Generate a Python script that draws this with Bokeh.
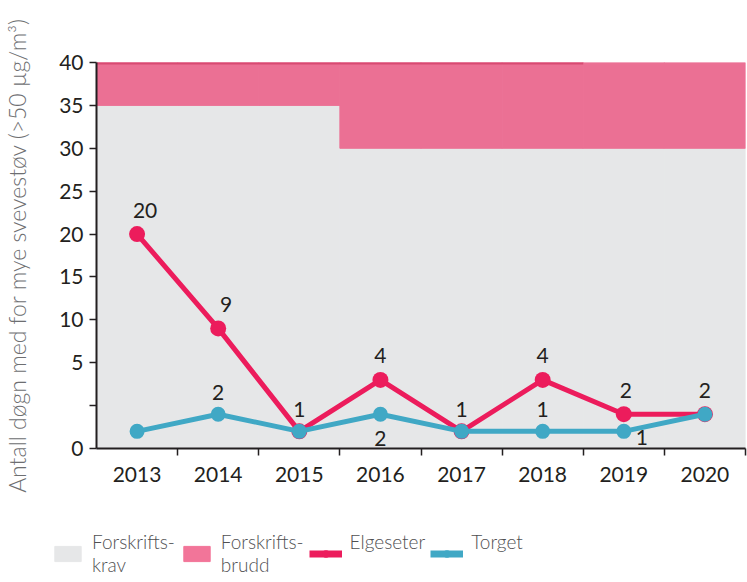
from bokeh.plotting import figure
from bokeh.layouts import column
from bokeh.models import (ColumnDataSource, FixedTicker, Legend, LegendItem, Range1d,
                          CustomJSTransform, CustomJSTickFormatter)
from bokeh.transform import transform
from bokeh.core.properties import value
from bokeh.embed import file_html
from bokeh.resources import INLINE
import numpy as np

# ---------------- data ----------------
years = [2013, 2014, 2015, 2016, 2017, 2018, 2019, 2020]
year_labels = ["2013", "2014", "2015", "2016", "2017", "2018", "2019", "2020"]
elgeseter = [20, 9, 1, 4, 1, 4, 2, 2]
torget = [1, 2, 1, 2, 1, 1, 1, 2]
forskriftskrav = [35, 35, 35, 30, 30, 30, 30, 30]   # allowed number of days
y_top = [40] * len(years)
y_ticks = [0, 5, 10, 15, 20, 25, 30, 35, 40]
y_minor_ticks = [2.5]
y_binning = [0, 2.5, 5, 10, 15, 20, 25, 30, 35, 40]   # equally spaced steps on the original axis
elgeseter_labels = ["20", "9", "1", "4", "1", "4", "2", "2"]
torget_labels = ["", "2", "", "2", "", "1", "1", ""]
legend_labels = ["Forskrifts-\nkrav", "Forskrifts-\nbrudd", "Elgeseter\n ", "Torget\n "]

# label placement (styles, not data)
elg_dx = [8, 8, 0, 0, 0, 0, 2, 0]
elg_dy = [-24, -24, -22, -24, -22, -24, -24, -24]
tor_dx = [0, 0, 0, 0, 0, 0, 18, 0]
tor_dy = [0, -22, 0, 24, 0, -22, 6, 0]

# ---------------- style ----------------
GRAY = "#e6e7e8"
PINK = "#eb7094"
PINK_LEG = "#f27599"
PINK_DARK = "#d84a72"
RED = "#ec1c5c"
TEAL = "#40a8c5"
DARK = "#231f20"
LABEL_GRAY = "#6d6e71"
LEG_GRAY = "#505052"
FONT_S = "Lato"
LIGHT_S = "Lato Light, Lato"
FONT = value(FONT_S)

# piecewise-linear axis (the original axis gives 0-5 the same height as two 5-steps)
n_bins = len(y_binning) - 1
fwd = CustomJSTransform(args=dict(b=y_binning), v_func="""
    const n = b.length, out = new Float64Array(xs.length);
    const step = (b[n-1] - b[0]) / (n - 1);
    for (let i = 0; i < xs.length; i++) {
        const x = xs[i];
        let k = 0;
        while (k < n - 2 && x > b[k+1]) k++;
        out[i] = b[0] + (k + (x - b[k]) / (b[k+1] - b[k])) * step;
    }
    return out;
""")

def axis_pos(v):
    return float(np.interp(v, y_binning, np.linspace(y_binning[0], y_binning[-1], n_bins + 1)))

p = figure(width=747, height=496,
           x_range=Range1d(years[0] - 0.5, years[-1] + 0.5),
           y_range=Range1d(axis_pos(y_ticks[0]), axis_pos(y_ticks[-1])),
           output_backend="svg", toolbar_location=None,
           min_border_left=96, min_border_right=2, min_border_top=62,
           min_border_bottom=48, outline_line_color=None,
           background_fill_color="white", border_fill_color="white")
p.grid.visible = False

src = ColumnDataSource(dict(x=years, elg=elgeseter, tor=torget, krav=forskriftskrav,
                            top=y_top, zero=[0] * len(years),
                            elt=elgeseter_labels, tot=torget_labels,
                            edx=elg_dx, edy=elg_dy, tdx=tor_dx, tdy=tor_dy))

# background regions
p.vbar(x="x", bottom=transform("zero", fwd), top=transform("krav", fwd), width=1,
       source=src, fill_color=GRAY, line_color=GRAY, line_width=1)
p.vbar(x="x", bottom=transform("krav", fwd), top=transform("top", fwd), width=1,
       source=src, fill_color=PINK, line_color=PINK, line_width=1)
edge_src = ColumnDataSource(dict(x0=[years[0] - 0.5], x1=[years[5] + 0.5], y=[y_top[0]]))
p.segment(x0="x0", y0=transform("y", fwd), x1="x1", y1=transform("y", fwd),
          source=edge_src, line_color=PINK_DARK, line_width=4)

# series
p.line("x", transform("elg", fwd), source=src, line_color=RED, line_width=5)
p.scatter("x", transform("elg", fwd), source=src, size=16, fill_color=RED, line_color=None)
p.line("x", transform("tor", fwd), source=src, line_color=TEAL, line_width=5)
p.scatter("x", transform("tor", fwd), source=src, size=15, fill_color=TEAL, line_color=None)

for yf, tf, dxf, dyf in (("elg", "elt", "edx", "edy"), ("tor", "tot", "tdx", "tdy")):
    p.text(x="x", y=transform(yf, fwd), text=tf, x_offset=dxf, y_offset=dyf, source=src,
           text_font=FONT, text_font_size="21px", text_color=DARK,
           text_align="center", text_baseline="middle")

# axes
xa = p.xaxis[0]
xa.ticker = FixedTicker(ticks=years,
                        minor_ticks=[y + 0.5 for y in years[:-1]] + [years[-1] + 0.5])
xa.major_label_overrides = {y: l for y, l in zip(years, year_labels)}
xa.major_tick_out = 0
xa.major_tick_in = 0
xa.minor_tick_out = 7
xa.minor_tick_in = 0
xa.minor_tick_line_color = DARK
xa.minor_tick_line_width = 1.5
xa.axis_line_color = DARK
xa.axis_line_width = 2
xa.major_label_standoff = 11
xa.major_label_text_font = FONT_S
xa.major_label_text_font_size = "21px"
xa.major_label_text_color = DARK

ya = p.yaxis[0]
ya.ticker = FixedTicker(ticks=[axis_pos(t) for t in y_ticks],
                        minor_ticks=[axis_pos(t) for t in y_minor_ticks])
ya.formatter = CustomJSTickFormatter(args=dict(b=y_binning), code="""
    const n = b.length, step = (b[n-1] - b[0]) / (n - 1);
    const u = (tick - b[0]) / step;
    const k = Math.min(Math.floor(u + 1e-9), n - 2);
    const v = b[k] + (u - k) * (b[k+1] - b[k]);
    return String(Math.round(v));
""")
ya.major_tick_out = 7
ya.major_tick_in = 0
ya.minor_tick_out = 7
ya.minor_tick_in = 0
ya.major_tick_line_color = DARK
ya.minor_tick_line_color = DARK
ya.major_tick_line_width = 1.5
ya.minor_tick_line_width = 1.5
ya.axis_line_color = DARK
ya.axis_line_width = 2
ya.major_label_standoff = 6
ya.major_label_text_font = FONT_S
ya.major_label_text_font_size = "21px"
ya.major_label_text_color = DARK
ya.axis_label = "Antall døgn med for mye svevestøv (>50 µg/m³)"
ya.axis_label_text_font = LIGHT_S
ya.axis_label_text_font_style = "normal"
ya.axis_label_text_font_size = "23px"
ya.axis_label_text_color = LABEL_GRAY
ya.axis_label_standoff = 25

# ---------------- legend panel ----------------
lf = figure(width=747, height=86, x_range=Range1d(0, 1), y_range=Range1d(0, 1),
            output_backend="svg", toolbar_location=None,
            x_axis_location=None, y_axis_location=None,
            min_border=0, outline_line_color=None,
            background_fill_color="white", border_fill_color="white")
try:
    lf.frame_align = False
    p.frame_align = False
except Exception:
    pass
lf.grid.visible = False
# legend swatches only: a single row kept outside the visible range
dummy = ColumnDataSource(dict(x=[-5], y=[-5], b=[-5], t=[-4]))
g_krav = lf.vbar(x="x", bottom="b", top="t", width=1, source=dummy,
                 fill_color=GRAY, line_color=GRAY)
g_brudd = lf.vbar(x="x", bottom="b", top="t", width=1, source=dummy,
                  fill_color=PINK_LEG, line_color=PINK_LEG)
g_el_l = lf.line("x", "y", source=dummy, line_color=RED, line_width=7)
g_el_p = lf.scatter("x", "y", source=dummy, size=14, fill_color=RED, line_color=None)
g_to_l = lf.line("x", "y", source=dummy, line_color=TEAL, line_width=7)
g_to_p = lf.scatter("x", "y", source=dummy, size=14, fill_color=TEAL, line_color=None)

legend = Legend(items=[
    LegendItem(label=legend_labels[0], renderers=[g_krav]),
    LegendItem(label=legend_labels[1], renderers=[g_brudd]),
    LegendItem(label=legend_labels[2], renderers=[g_el_l, g_el_p]),
    LegendItem(label=legend_labels[3], renderers=[g_to_l, g_to_p]),
], orientation="horizontal", location=(51, 6),
    label_text_font=LIGHT_S, label_text_font_size="19px", label_text_color=LEG_GRAY,
    glyph_width=33, glyph_height=19, label_standoff=8, spacing=5,
    padding=0, margin=0, border_line_color=None, background_fill_alpha=0)
lf.add_layout(legend)

open("out.html", "w").write(file_html(column(p, lf), INLINE))
